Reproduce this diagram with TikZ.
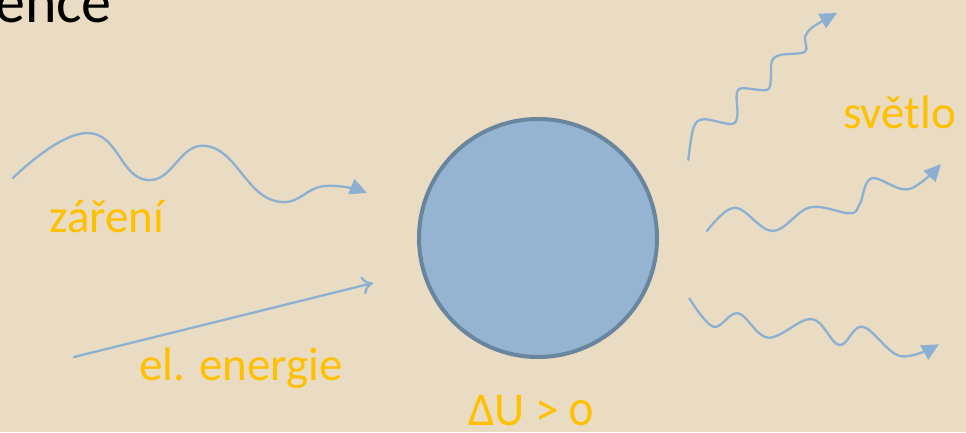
\documentclass[tikz,border=0pt]{standalone}
\usepackage{fontspec}
\setmainfont{Carlito}
\usetikzlibrary{arrows.meta}
\definecolor{bg}{HTML}{EADCC2}
\definecolor{ballfill}{HTML}{94B4D2}
\definecolor{balledge}{HTML}{6A869E}
\definecolor{wavec}{HTML}{8CB0D2}
\definecolor{labelc}{HTML}{FFC000}
\tikzset{
  wave/.style={draw=wavec, line width=2.3pt, line cap=round, -{Triangle[length=17pt,width=16pt]}},
  lbl/.style={text=labelc, font=\fontsize{47}{50}\selectfont, inner sep=0pt, anchor=base west},
}
\begin{document}
\begin{tikzpicture}[x=1pt,y=-1pt]
\fill[bg] (0,0) rectangle (966,432);
\useasboundingbox (0,0) rectangle (966,432);
\node[anchor=base east, inner sep=0pt, font=\fontsize{60}{62}\selectfont] (title) at (112,22) {ence};
\node[circle, fill=ballfill, draw=balledge, line width=4pt, minimum size=238pt, inner sep=0pt] (ball) at (538,238) {};
\node[lbl] (zareni) at (49,232) {záření};
\node[lbl] (elen) at (139,380) {el. energie};
\node[lbl] (svetlo) at (843,128) {světlo};
\node[lbl] (du) at (468,425) {ΔU > \addfontfeatures{Numbers=OldStyle}0};
% radiation in
\draw[wave] plot[smooth, tension=0.8] coordinates {(13,178) (88,133) (147,180) (207,146) (272,200) (325,186) (367,193)};
% electric energy
\coordinate (e0) at (74,357);
\coordinate (e1) at (373,283);
\draw[draw=wavec, line width=2.3pt, line cap=round, -{To[length=11pt,width=18pt]}] (e0) -- (e1);
% light out
\draw[wave] plot[smooth, tension=0.55] coordinates {(688.3,160) (693.3,128.3) (703.3,119.3) (731.7,124) (737.3,115) (736.7,95) (741.7,88.3) (766.7,90) (770.7,80) (771.7,61.7) (780,55) (805,51.7) (805,36.7) (813.3,26.7) (837,13)};
\draw[wave] plot[smooth, tension=0.6] coordinates {(707,231) (735,207.7) (772.7,231) (810,207.3) (850,213.3) (860,203.3) (871.7,178.3) (908.3,189.3) (941,164)};
\draw[wave] plot[smooth, tension=0.6] coordinates {(689.3,298.3) (713.3,326.7) (738.3,313.3) (768.3,337.7) (811.7,319) (839.3,345) (862.7,326.7) (900,356) (939,344.3)};
\end{tikzpicture}
\end{document}
